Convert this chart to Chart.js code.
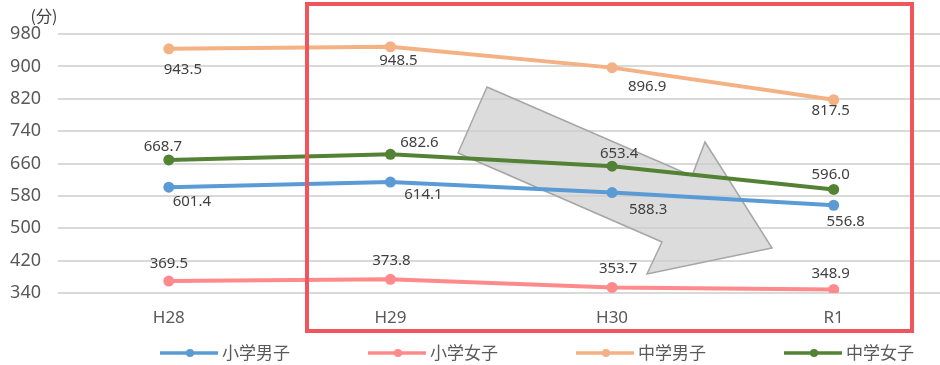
<!DOCTYPE html>
<html><head><meta charset="utf-8">
<script src="https://cdn.jsdelivr.net/npm/chart.js@4"></script>
<style>
html,body{margin:0;padding:0;background:#fff;overflow:hidden;width:940px;height:365px;}
canvas{display:block;}
</style></head>
<body>
<canvas id="c" width="950" height="365"></canvas>
<script>
const categories = ['H28', 'H29', 'H30', 'R1'];
const seriesNames = ['小学男子', '小学女子', '中学男子', '中学女子'];
const boysElem = [601.4, 614.1, 588.3, 556.8];
const girlsElem = [369.5, 373.8, 353.7, 348.9];
const boysJunior = [943.5, 948.5, 896.9, 817.5];
const girlsJunior = [668.7, 682.6, 653.4, 596.0];
const yTicks = [340, 420, 500, 580, 660, 740, 820, 900, 980];
const unitLabel = '(分)';

const colors = ['#5b9bd5', '#ff8a8c', '#f4b183', '#548235'];
// label offsets relative to the point (px), per series
const labelOffsets = [
  [[23,15],[33,13],[36,17],[12,16]],
  [[0,-17],[1,-19],[6,-19],[-3,-16]],
  [[14,21],[8,14],[35,19],[-3,11]],
  [[-6,-13],[29,-12],[7,-12],[-3,-15]]
];

const seriesData = [boysElem, girlsElem, boysJunior, girlsJunior];
const FONT = "'Noto Sans', 'Noto Sans CJK JP', sans-serif";
const CJK = "'Noto Sans CJK JP', 'Noto Sans', sans-serif";

const decor = {
  id: 'decor',
  beforeDatasetsDraw(chart) {
    const ctx = chart.ctx;
    ctx.save();
    // grey arrow
    const pts = [[487,87],[692,176],[705,142],[772,248],[647,274],[662,242],[458,153]];
    ctx.beginPath();
    pts.forEach((p,i)=> i?ctx.lineTo(p[0],p[1]):ctx.moveTo(p[0],p[1]));
    ctx.closePath();
    ctx.fillStyle = 'rgba(205,205,205,0.7)';
    ctx.fill();
    ctx.strokeStyle = '#a6a6a6';
    ctx.lineWidth = 1.5;
    ctx.stroke();
    ctx.restore();
  },
  afterDatasetsDraw(chart) {
    const ctx = chart.ctx;
    ctx.save();
    // data labels
    ctx.font = '15px ' + FONT;
    ctx.fillStyle = '#404040';
    ctx.textAlign = 'center';
    ctx.textBaseline = 'middle';
    chart.data.datasets.forEach((ds, di) => {
      const meta = chart.getDatasetMeta(di);
      meta.data.forEach((el, i) => {
        const off = labelOffsets[di][i];
        ctx.fillText(ds.data[i].toFixed(1), el.x + off[0], el.y + off[1]);
      });
    });
    // unit label
    ctx.font = '16px ' + CJK;
    ctx.fillStyle = '#404040';
    ctx.fillText(unitLabel, 44, 16);
    // red highlight frame
    ctx.strokeStyle = '#f0545c';
    ctx.lineWidth = 4;
    ctx.strokeRect(307, 4, 605, 327);
    // legend
    let x = 160;
    const y = 353;
    chart.data.datasets.forEach((ds) => {
      ctx.strokeStyle = ds.borderColor;
      ctx.lineWidth = 3.5;
      ctx.beginPath(); ctx.moveTo(x, y); ctx.lineTo(x + 58, y); ctx.stroke();
      ctx.fillStyle = ds.borderColor;
      ctx.beginPath(); ctx.arc(x + 30, y, 4, 0, Math.PI*2); ctx.fill();
      ctx.fillStyle = '#595959';
      ctx.font = '17px ' + CJK;
      ctx.textAlign = 'left';
      ctx.fillText(ds.label, x + 62, y);
      x += 208;
    });
    ctx.restore();
  }
};

new Chart(document.getElementById('c'), {
  type: 'line',
  data: {
    labels: categories,
    datasets: seriesNames.map((n, i) => ({
      label: n,
      data: seriesData[i],
      borderColor: colors[i],
      backgroundColor: colors[i],
      borderWidth: 4,
      pointRadius: 5.5,
      pointBorderWidth: 0,
      pointBackgroundColor: colors[i],
      tension: 0,
      fill: false
    }))
  },
  options: {
    responsive: false,
    animation: false,
    events: [],
    layout: { padding: { top: 34, right: 4, bottom: 32, left: 0 } },
    plugins: { legend: { display: false }, tooltip: { enabled: false } },
    scales: {
      x: {
        offset: true,
        grid: { display: false, drawTicks: false },
        border: { display: false },
        ticks: { color: '#595959', font: { family: FONT, size: 17 }, padding: 15 },
        afterFit(s) { s.height = 40; }
      },
      y: {
        min: 340, max: 980,
        afterBuildTicks(s) { s.ticks = yTicks.map(v => ({ value: v })); },
        grid: { color: '#d9d9d9', lineWidth: 2, drawTicks: false },
        border: { display: false },
        ticks: { color: '#595959', font: { family: FONT, size: 18 }, padding: 17 },
        afterFit(s) { s.width = 58; }
      }
    }
  },
  plugins: [decor]
});
</script>
</body></html>
